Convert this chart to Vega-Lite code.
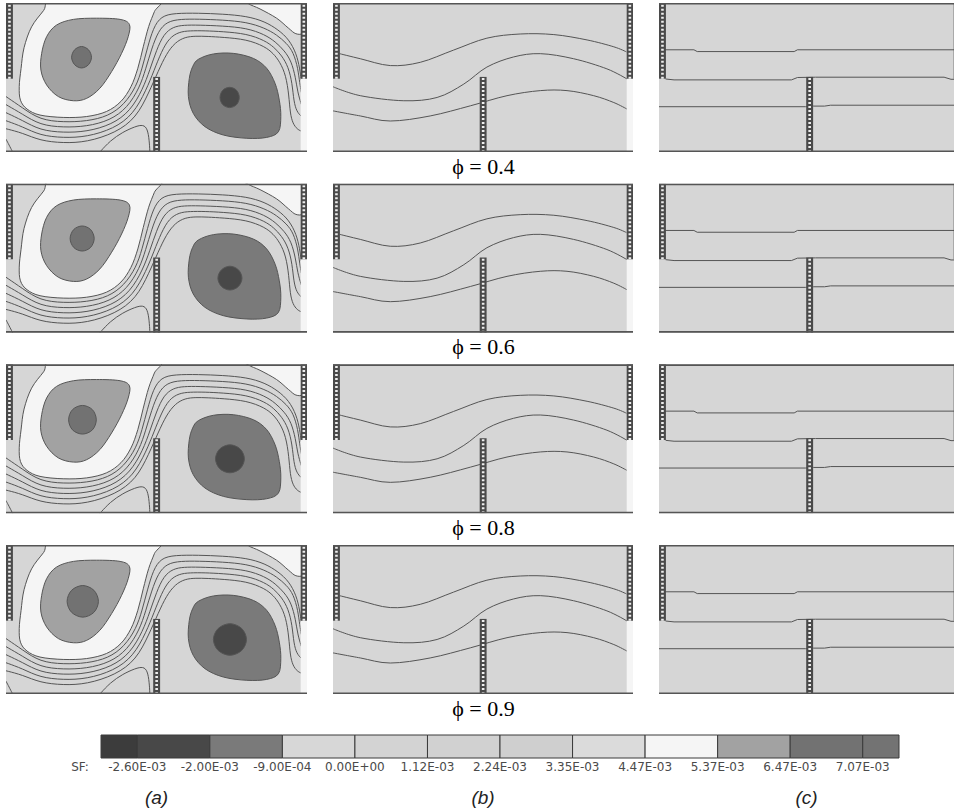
{
"$schema": "https://vega.github.io/schema/vega-lite/v6.json",
"padding": {"left": 6, "top": 3, "right": 0, "bottom": 0},
"background": "white",
"config": {"view": {"stroke": null}},
"datasets": {
"a_regions": [
{"id":"w","band":9,"z":1,"i":1,"x":15.5,"y":51.5},{"id":"w","band":9,"z":1,"i":2,"x":12.5,"y":47.5},{"id":"w","band":9,"z":1,"i":3,"x":8.5,"y":42},{"id":"w","band":9,"z":1,"i":4,"x":6.0,"y":35},{"id":"w","band":9,"z":1,"i":5,"x":5.0,"y":28},{"id":"w","band":9,"z":1,"i":6,"x":4.4,"y":22},{"id":"w","band":9,"z":1,"i":7,"x":4.8,"y":17.4},{"id":"w","band":9,"z":1,"i":8,"x":7.0,"y":14.4},{"id":"w","band":9,"z":1,"i":9,"x":11.3,"y":12.4},{"id":"w","band":9,"z":1,"i":10,"x":19.0,"y":11.6},{"id":"w","band":9,"z":1,"i":11,"x":26.8,"y":11.9},{"id":"w","band":9,"z":1,"i":12,"x":33.4,"y":13.6},{"id":"w","band":9,"z":1,"i":13,"x":38.2,"y":17.0},{"id":"w","band":9,"z":1,"i":14,"x":41.5,"y":21.9},{"id":"w","band":9,"z":1,"i":15,"x":43.8,"y":28.1},{"id":"w","band":9,"z":1,"i":16,"x":45.6,"y":35.3},{"id":"w","band":9,"z":1,"i":17,"x":47.4,"y":42.1},{"id":"w","band":9,"z":1,"i":18,"x":49.3,"y":47.1},{"id":"w","band":9,"z":1,"i":19,"x":51.0,"y":51.5},{"id":"w","band":9,"z":1,"i":20,"x":33.0,"y":52.5},
{"id":"t","band":9,"z":1,"i":1,"x":78.5,"y":52},{"id":"t","band":9,"z":1,"i":2,"x":80.5,"y":49.8},{"id":"t","band":9,"z":1,"i":3,"x":84.4,"y":48.0},{"id":"t","band":9,"z":1,"i":4,"x":89.9,"y":44.9},{"id":"t","band":9,"z":1,"i":5,"x":93.8,"y":41.6},{"id":"t","band":9,"z":1,"i":6,"x":96.3,"y":39.7},{"id":"t","band":9,"z":1,"i":7,"x":98.8,"y":40.0},{"id":"t","band":9,"z":1,"i":8,"x":100.5,"y":44},{"id":"t","band":9,"z":1,"i":9,"x":100.5,"y":52},
{"id":"v1","band":10,"z":2,"i":1,"x":11.85,"y":33.1},{"id":"v1","band":10,"z":2,"i":2,"x":13.5,"y":38.7},{"id":"v1","band":10,"z":2,"i":3,"x":16.8,"y":42.6},{"id":"v1","band":10,"z":2,"i":4,"x":22.4,"y":44.5},{"id":"v1","band":10,"z":2,"i":5,"x":30.1,"y":44.9},{"id":"v1","band":10,"z":2,"i":6,"x":37.9,"y":44.5},{"id":"v1","band":10,"z":2,"i":7,"x":41.0,"y":42.8},{"id":"v1","band":10,"z":2,"i":8,"x":40.6,"y":38.7},{"id":"v1","band":10,"z":2,"i":9,"x":38.4,"y":33.1},{"id":"v1","band":10,"z":2,"i":10,"x":35.1,"y":27.0},{"id":"v1","band":10,"z":2,"i":11,"x":31.2,"y":21.4},{"id":"v1","band":10,"z":2,"i":12,"x":26.8,"y":18.0},{"id":"v1","band":10,"z":2,"i":13,"x":22.4,"y":17.2},{"id":"v1","band":10,"z":2,"i":14,"x":17.4,"y":18.6},{"id":"v1","band":10,"z":2,"i":15,"x":13.5,"y":22.5},{"id":"v1","band":10,"z":2,"i":16,"x":11.6,"y":27.5},
{"id":"v2","band":3,"z":2,"i":1,"x":63.9,"y":31.1},{"id":"v2","band":3,"z":2,"i":2,"x":68.9,"y":32.9},{"id":"v2","band":3,"z":2,"i":3,"x":75.5,"y":33.1},{"id":"v2","band":3,"z":2,"i":4,"x":82.2,"y":31.4},{"id":"v2","band":3,"z":2,"i":5,"x":86.6,"y":28.1},{"id":"v2","band":3,"z":2,"i":6,"x":89.4,"y":23.0},{"id":"v2","band":3,"z":2,"i":7,"x":90.8,"y":17.4},{"id":"v2","band":3,"z":2,"i":8,"x":91.3,"y":11.9},{"id":"v2","band":3,"z":2,"i":9,"x":90.5,"y":6.8},{"id":"v2","band":3,"z":2,"i":10,"x":86.6,"y":4.9},{"id":"v2","band":3,"z":2,"i":11,"x":80.0,"y":4.6},{"id":"v2","band":3,"z":2,"i":12,"x":72.2,"y":5.7},{"id":"v2","band":3,"z":2,"i":13,"x":66.1,"y":8.5},{"id":"v2","band":3,"z":2,"i":14,"x":62.2,"y":13.0},{"id":"v2","band":3,"z":2,"i":15,"x":60.6,"y":18.6},{"id":"v2","band":3,"z":2,"i":16,"x":60.9,"y":24.7},{"id":"v2","band":3,"z":2,"i":17,"x":62.0,"y":28.6}
],
"a_cores": [
{"phi":0.4,"id":"c1","band":11,"i":1,"x":28.4,"y":31.8},{"phi":0.4,"id":"c1","band":11,"i":2,"x":27.4,"y":34.3},{"phi":0.4,"id":"c1","band":11,"i":3,"x":25.1,"y":35.4},{"phi":0.4,"id":"c1","band":11,"i":4,"x":22.8,"y":34.3},{"phi":0.4,"id":"c1","band":11,"i":5,"x":21.8,"y":31.8},{"phi":0.4,"id":"c1","band":11,"i":6,"x":22.8,"y":29.3},{"phi":0.4,"id":"c1","band":11,"i":7,"x":25.1,"y":28.2},{"phi":0.4,"id":"c1","band":11,"i":8,"x":27.4,"y":29.3},
{"phi":0.4,"id":"c2","band":2,"i":1,"x":77.5,"y":18.3},{"phi":0.4,"id":"c2","band":2,"i":2,"x":76.6,"y":20.7},{"phi":0.4,"id":"c2","band":2,"i":3,"x":74.3,"y":21.7},{"phi":0.4,"id":"c2","band":2,"i":4,"x":72.0,"y":20.7},{"phi":0.4,"id":"c2","band":2,"i":5,"x":71.1,"y":18.3},{"phi":0.4,"id":"c2","band":2,"i":6,"x":72.0,"y":15.9},{"phi":0.4,"id":"c2","band":2,"i":7,"x":74.3,"y":14.9},{"phi":0.4,"id":"c2","band":2,"i":8,"x":76.6,"y":15.9},
{"phi":0.6,"id":"c1","band":11,"i":1,"x":29.3,"y":31.6},{"phi":0.6,"id":"c1","band":11,"i":2,"x":28.1,"y":34.6},{"phi":0.6,"id":"c1","band":11,"i":3,"x":25.3,"y":35.8},{"phi":0.6,"id":"c1","band":11,"i":4,"x":22.5,"y":34.6},{"phi":0.6,"id":"c1","band":11,"i":5,"x":21.3,"y":31.6},{"phi":0.6,"id":"c1","band":11,"i":6,"x":22.5,"y":28.6},{"phi":0.6,"id":"c1","band":11,"i":7,"x":25.3,"y":27.4},{"phi":0.6,"id":"c1","band":11,"i":8,"x":28.1,"y":28.6},
{"phi":0.6,"id":"c2","band":2,"i":1,"x":78.4,"y":18.3},{"phi":0.6,"id":"c2","band":2,"i":2,"x":77.2,"y":21.1},{"phi":0.6,"id":"c2","band":2,"i":3,"x":74.4,"y":22.3},{"phi":0.6,"id":"c2","band":2,"i":4,"x":71.6,"y":21.1},{"phi":0.6,"id":"c2","band":2,"i":5,"x":70.4,"y":18.3},{"phi":0.6,"id":"c2","band":2,"i":6,"x":71.6,"y":15.5},{"phi":0.6,"id":"c2","band":2,"i":7,"x":74.4,"y":14.3},{"phi":0.6,"id":"c2","band":2,"i":8,"x":77.2,"y":15.5},
{"phi":0.8,"id":"c1","band":11,"i":1,"x":30.0,"y":31.4},{"phi":0.8,"id":"c1","band":11,"i":2,"x":28.7,"y":34.8},{"phi":0.8,"id":"c1","band":11,"i":3,"x":25.4,"y":36.2},{"phi":0.8,"id":"c1","band":11,"i":4,"x":22.1,"y":34.8},{"phi":0.8,"id":"c1","band":11,"i":5,"x":20.8,"y":31.4},{"phi":0.8,"id":"c1","band":11,"i":6,"x":22.1,"y":28.0},{"phi":0.8,"id":"c1","band":11,"i":7,"x":25.4,"y":26.6},{"phi":0.8,"id":"c1","band":11,"i":8,"x":28.7,"y":28.0},
{"phi":0.8,"id":"c2","band":2,"i":1,"x":79.2,"y":18.3},{"phi":0.8,"id":"c2","band":2,"i":2,"x":77.8,"y":21.6},{"phi":0.8,"id":"c2","band":2,"i":3,"x":74.4,"y":23.0},{"phi":0.8,"id":"c2","band":2,"i":4,"x":71.0,"y":21.6},{"phi":0.8,"id":"c2","band":2,"i":5,"x":69.6,"y":18.3},{"phi":0.8,"id":"c2","band":2,"i":6,"x":71.0,"y":15.0},{"phi":0.8,"id":"c2","band":2,"i":7,"x":74.4,"y":13.6},{"phi":0.8,"id":"c2","band":2,"i":8,"x":77.8,"y":15.0},
{"phi":0.9,"id":"c1","band":11,"i":1,"x":30.7,"y":31.1},{"phi":0.9,"id":"c1","band":11,"i":2,"x":29.2,"y":34.8},{"phi":0.9,"id":"c1","band":11,"i":3,"x":25.5,"y":36.4},{"phi":0.9,"id":"c1","band":11,"i":4,"x":21.8,"y":34.8},{"phi":0.9,"id":"c1","band":11,"i":5,"x":20.3,"y":31.1},{"phi":0.9,"id":"c1","band":11,"i":6,"x":21.8,"y":27.4},{"phi":0.9,"id":"c1","band":11,"i":7,"x":25.5,"y":25.8},{"phi":0.9,"id":"c1","band":11,"i":8,"x":29.2,"y":27.4},
{"phi":0.9,"id":"c2","band":2,"i":1,"x":79.9,"y":18.3},{"phi":0.9,"id":"c2","band":2,"i":2,"x":78.3,"y":22.0},{"phi":0.9,"id":"c2","band":2,"i":3,"x":74.4,"y":23.6},{"phi":0.9,"id":"c2","band":2,"i":4,"x":70.5,"y":22.0},{"phi":0.9,"id":"c2","band":2,"i":5,"x":68.9,"y":18.3},{"phi":0.9,"id":"c2","band":2,"i":6,"x":70.5,"y":14.6},{"phi":0.9,"id":"c2","band":2,"i":7,"x":74.4,"y":13.0},{"phi":0.9,"id":"c2","band":2,"i":8,"x":78.3,"y":14.6}
],
"a_lines": [
{"id":"k0","i":1,"x":0,"y":18.6},{"id":"k0","i":2,"x":5.5,"y":14.8},{"id":"k0","i":3,"x":11.3,"y":10.8},{"id":"k0","i":4,"x":19,"y":10.0},{"id":"k0","i":5,"x":26.8,"y":10.3},{"id":"k0","i":6,"x":34.0,"y":12.0},{"id":"k0","i":7,"x":39.3,"y":15.9},{"id":"k0","i":8,"x":43.3,"y":22.0},{"id":"k0","i":9,"x":45.2,"y":28.0},{"id":"k0","i":10,"x":47.0,"y":35.0},{"id":"k0","i":11,"x":48.9,"y":41.6},{"id":"k0","i":12,"x":51.5,"y":45.6},{"id":"k0","i":13,"x":56,"y":46.6},{"id":"k0","i":14,"x":64,"y":46.6},{"id":"k0","i":15,"x":72,"y":46.3},{"id":"k0","i":16,"x":80,"y":45.6},{"id":"k0","i":17,"x":86,"y":43.8},{"id":"k0","i":18,"x":90.5,"y":41.0},{"id":"k0","i":19,"x":94,"y":37.8},{"id":"k0","i":20,"x":96.5,"y":33},{"id":"k0","i":21,"x":97.6,"y":28},{"id":"k0","i":22,"x":98.1,"y":24},
{"id":"k1","i":1,"x":0,"y":15.9},{"id":"k1","i":2,"x":5.5,"y":12.7},{"id":"k1","i":3,"x":11.3,"y":9.05},{"id":"k1","i":4,"x":19,"y":8.25},{"id":"k1","i":5,"x":26.8,"y":8.55},{"id":"k1","i":6,"x":34.6,"y":10.6},{"id":"k1","i":7,"x":40.3,"y":14.8},{"id":"k1","i":8,"x":44.4,"y":21.6},{"id":"k1","i":9,"x":46.4,"y":27.8},{"id":"k1","i":10,"x":48.4,"y":34.7},{"id":"k1","i":11,"x":50.6,"y":40.6},{"id":"k1","i":12,"x":53.5,"y":43.8},{"id":"k1","i":13,"x":58,"y":44.6},{"id":"k1","i":14,"x":64,"y":44.6},{"id":"k1","i":15,"x":72,"y":44.3},{"id":"k1","i":16,"x":80,"y":43.6},{"id":"k1","i":17,"x":86,"y":41.6},{"id":"k1","i":18,"x":90,"y":39.3},{"id":"k1","i":19,"x":93.2,"y":36.5},{"id":"k1","i":20,"x":95.5,"y":33.5},{"id":"k1","i":21,"x":97,"y":28},{"id":"k1","i":22,"x":97.6,"y":23},{"id":"k1","i":23,"x":98.1,"y":20},
{"id":"k2","i":1,"x":0,"y":13.2},{"id":"k2","i":2,"x":5.5,"y":10.6},{"id":"k2","i":3,"x":11.3,"y":7.3},{"id":"k2","i":4,"x":19,"y":6.5},{"id":"k2","i":5,"x":26.8,"y":6.8},{"id":"k2","i":6,"x":35.2,"y":9.2},{"id":"k2","i":7,"x":41.3,"y":13.7},{"id":"k2","i":8,"x":45.5,"y":21.2},{"id":"k2","i":9,"x":47.8,"y":27.6},{"id":"k2","i":10,"x":50.0,"y":34.2},{"id":"k2","i":11,"x":52.4,"y":39.6},{"id":"k2","i":12,"x":55.5,"y":42.0},{"id":"k2","i":13,"x":59,"y":42.6},{"id":"k2","i":14,"x":64,"y":42.6},{"id":"k2","i":15,"x":72,"y":42.3},{"id":"k2","i":16,"x":80,"y":41.6},{"id":"k2","i":17,"x":86,"y":39.4},{"id":"k2","i":18,"x":89.5,"y":37.0},{"id":"k2","i":19,"x":92.5,"y":34},{"id":"k2","i":20,"x":94.8,"y":30.5},{"id":"k2","i":21,"x":96.2,"y":25},{"id":"k2","i":22,"x":96.9,"y":20},{"id":"k2","i":23,"x":98.1,"y":16},
{"id":"k3","i":1,"x":0,"y":10.5},{"id":"k3","i":2,"x":5.5,"y":8.5},{"id":"k3","i":3,"x":11.3,"y":5.55},{"id":"k3","i":4,"x":19,"y":4.75},{"id":"k3","i":5,"x":26.8,"y":5.05},{"id":"k3","i":6,"x":35.8,"y":7.8},{"id":"k3","i":7,"x":42.3,"y":12.6},{"id":"k3","i":8,"x":46.6,"y":20.8},{"id":"k3","i":9,"x":49.2,"y":27.4},{"id":"k3","i":10,"x":51.6,"y":33.6},{"id":"k3","i":11,"x":54.2,"y":38.3},{"id":"k3","i":12,"x":57.5,"y":40.3},{"id":"k3","i":13,"x":61,"y":40.7},{"id":"k3","i":14,"x":66,"y":40.7},{"id":"k3","i":15,"x":72,"y":40.4},{"id":"k3","i":16,"x":80,"y":39.7},{"id":"k3","i":17,"x":86,"y":37.4},{"id":"k3","i":18,"x":89,"y":35.2},{"id":"k3","i":19,"x":91.6,"y":32.4},{"id":"k3","i":20,"x":93.8,"y":28.6},{"id":"k3","i":21,"x":95.1,"y":23},{"id":"k3","i":22,"x":95.6,"y":17},{"id":"k3","i":23,"x":96.6,"y":13.5},{"id":"k3","i":24,"x":98.1,"y":12},
{"id":"k4","i":1,"x":0,"y":7.8},{"id":"k4","i":2,"x":5.5,"y":6.4},{"id":"k4","i":3,"x":11.3,"y":3.8},{"id":"k4","i":4,"x":19,"y":3.0},{"id":"k4","i":5,"x":26.8,"y":3.3},{"id":"k4","i":6,"x":36.4,"y":6.4},{"id":"k4","i":7,"x":43.3,"y":11.5},{"id":"k4","i":8,"x":47.5,"y":20.0},{"id":"k4","i":9,"x":50.6,"y":27.2},{"id":"k4","i":10,"x":53.3,"y":33.0},{"id":"k4","i":11,"x":56.2,"y":36.8},{"id":"k4","i":12,"x":59.5,"y":38.6},{"id":"k4","i":13,"x":63,"y":38.9},{"id":"k4","i":14,"x":67,"y":38.8},{"id":"k4","i":15,"x":72,"y":38.5},{"id":"k4","i":16,"x":80,"y":37.8},{"id":"k4","i":17,"x":86,"y":35.4},{"id":"k4","i":18,"x":88.8,"y":33.1},{"id":"k4","i":19,"x":91,"y":30.2},{"id":"k4","i":20,"x":93,"y":25.8},{"id":"k4","i":21,"x":94,"y":19},{"id":"k4","i":22,"x":94.4,"y":13},{"id":"k4","i":23,"x":95.3,"y":9.5},{"id":"k4","i":24,"x":96.8,"y":7.6},{"id":"k4","i":25,"x":98.1,"y":7},
{"id":"bump","i":1,"x":31.2,"y":0},{"id":"bump","i":2,"x":34.6,"y":3.8},{"id":"bump","i":3,"x":38.8,"y":6.7},{"id":"bump","i":4,"x":43,"y":8.6},{"id":"bump","i":5,"x":45.6,"y":9.2},{"id":"bump","i":6,"x":47.0,"y":7.8},{"id":"bump","i":7,"x":47.6,"y":4},{"id":"bump","i":8,"x":47.8,"y":0},
{"id":"corner","i":1,"x":0,"y":4.3},{"id":"corner","i":2,"x":1.0,"y":2.4},{"id":"corner","i":3,"x":2.2,"y":0}
],
"b_lines": [
{"id":"b1","i":1,"x":2.2,"y":33.0},{"id":"b1","i":2,"x":9.1,"y":31.3},{"id":"b1","i":3,"x":19.1,"y":29.0},{"id":"b1","i":4,"x":29.1,"y":30.1},{"id":"b1","i":5,"x":40.2,"y":34.2},{"id":"b1","i":6,"x":51.3,"y":38.2},{"id":"b1","i":7,"x":62.4,"y":39.6},{"id":"b1","i":8,"x":73.6,"y":39.4},{"id":"b1","i":9,"x":84.7,"y":37.6},{"id":"b1","i":10,"x":93.6,"y":35.3},{"id":"b1","i":11,"x":97.8,"y":33.6},
{"id":"b2","i":1,"x":0,"y":21.9},{"id":"b2","i":2,"x":9.1,"y":18.9},{"id":"b2","i":3,"x":23.6,"y":17.2},{"id":"b2","i":4,"x":34.7,"y":18.3},{"id":"b2","i":5,"x":43.6,"y":22.8},{"id":"b2","i":6,"x":51.3,"y":28.5},{"id":"b2","i":7,"x":60.2,"y":31.9},{"id":"b2","i":8,"x":69.1,"y":33.0},{"id":"b2","i":9,"x":80.2,"y":31.3},{"id":"b2","i":10,"x":91.3,"y":27.9},{"id":"b2","i":11,"x":98,"y":24.5},
{"id":"b3","i":1,"x":0,"y":13.8},{"id":"b3","i":2,"x":9.1,"y":12.1},{"id":"b3","i":3,"x":19.1,"y":10.4},{"id":"b3","i":4,"x":32.4,"y":12.1},{"id":"b3","i":5,"x":45.8,"y":15.5},{"id":"b3","i":6,"x":58.0,"y":18.9},{"id":"b3","i":7,"x":69.1,"y":20.6},{"id":"b3","i":8,"x":78,"y":20.6},{"id":"b3","i":9,"x":86.9,"y":18.9},{"id":"b3","i":10,"x":93.6,"y":16.6},{"id":"b3","i":11,"x":98,"y":14.4}
],
"c_lines": [
{"id":"c1","i":1,"x":0,"y":34.3},{"id":"c1","i":2,"x":11.6,"y":34.3},{"id":"c1","i":3,"x":12.7,"y":33.7},{"id":"c1","i":4,"x":44.9,"y":33.7},{"id":"c1","i":5,"x":46.0,"y":34.3},{"id":"c1","i":6,"x":100,"y":34.3},
{"id":"c2","i":1,"x":2.2,"y":24.5},{"id":"c2","i":2,"x":5,"y":24.2},{"id":"c2","i":3,"x":44,"y":24.2},{"id":"c2","i":4,"x":46,"y":25.0},{"id":"c2","i":5,"x":52,"y":25.1},{"id":"c2","i":6,"x":94.7,"y":25.1},{"id":"c2","i":7,"x":97,"y":24.4},{"id":"c2","i":8,"x":100,"y":24.4},
{"id":"c3","i":1,"x":0,"y":15.2},{"id":"c3","i":2,"x":48.7,"y":15.2},{"id":"c3","i":3,"x":51.3,"y":15.4},{"id":"c3","i":4,"x":55,"y":15.4},{"id":"c3","i":5,"x":57,"y":15.7},{"id":"c3","i":6,"x":100,"y":15.7}
],
"baffles": [{"x":0,"x2":2.3,"y":24.6,"y2":50},{"x":97.9,"x2":100,"y":24.6,"y2":50},{"x":48.9,"x2":51.2,"y":0,"y2":25.2}],
"bafflecores": [{"x":1.15,"y":24.6,"y2":50},{"x":98.95,"y":24.6,"y2":50},{"x":50.05,"y":0,"y2":25.2}],
"walls": [{"x":0,"x2":100,"y":0},{"x":0,"x2":100,"y":50}],
"strip": [{"x":97.9,"x2":100,"y":0,"y2":24.6,"band":9}],
"bar": [{"lo":0,"hi":0.5,"band":1},{"lo":0.5,"hi":1.5,"band":2},{"lo":1.5,"hi":2.5,"band":3},{"lo":2.5,"hi":3.5,"band":4},{"lo":3.5,"hi":4.5,"band":5},{"lo":4.5,"hi":5.5,"band":6},{"lo":5.5,"hi":6.5,"band":7},{"lo":6.5,"hi":7.5,"band":8},{"lo":7.5,"hi":8.5,"band":9},{"lo":8.5,"hi":9.5,"band":10},{"lo":9.5,"hi":10.5,"band":11},{"lo":10.5,"hi":11,"band":12}],
"barlabels": [{"pos":-0.29,"label":"SF:"},{"pos":0.5,"label":"-2.60E-03"},{"pos":1.5,"label":"-2.00E-03"},{"pos":2.5,"label":"-9.00E-04"},{"pos":3.5,"label":"0.00E+00"},{"pos":4.5,"label":"1.12E-03"},{"pos":5.5,"label":"2.24E-03"},{"pos":6.5,"label":"3.35E-03"},{"pos":7.5,"label":"4.47E-03"},{"pos":8.5,"label":"5.37E-03"},{"pos":9.5,"label":"6.47E-03"},{"pos":10.5,"label":"7.07E-03"}]
},
"spacing": 14,
"bounds": "full",
"vconcat": [
{"columns": 3, "spacing": {"row": 31.67, "column": 26}, "bounds": "flush", "align": "each",
"concat": [
{"width":301,"height":149,"view":{"fill":"#d6d6d6"},
 "encoding":{"x":{"field":"x","type":"quantitative","scale":{"domain":[0,100],"nice":false,"zero":false},"axis":null},"y":{"field":"y","type":"quantitative","scale":{"domain":[0,50],"nice":false,"zero":false},"axis":null}},
 "layer":[
  {"data":{"name":"a_regions"},"transform":[{"filter":"datum.z == 1"}],"mark":{"type":"line","interpolate":"cardinal-closed","stroke":"#555555","strokeWidth":1,"clip":true},"encoding":{"detail":{"field":"id","type":"nominal"},"order":{"field":"i","type":"quantitative"},"fill":{"field":"band","type":"ordinal","scale":{"domain":[1,2,3,4,5,6,7,8,9,10,11,12],"range":["#3c3c3c","#484848","#7a7a7a","#d7d7d7","#d3d3d3","#d1d1d1","#cfcfcf","#dbdbdb","#f5f5f5","#a2a2a2","#727272","#737373"]},"legend":null}}},
  {"data":{"name":"a_regions"},"transform":[{"filter":"datum.z == 2"}],"mark":{"type":"line","interpolate":"cardinal-closed","stroke":"#555555","strokeWidth":1,"clip":true},"encoding":{"detail":{"field":"id","type":"nominal"},"order":{"field":"i","type":"quantitative"},"fill":{"field":"band","type":"ordinal","scale":{"domain":[1,2,3,4,5,6,7,8,9,10,11,12],"range":["#3c3c3c","#484848","#7a7a7a","#d7d7d7","#d3d3d3","#d1d1d1","#cfcfcf","#dbdbdb","#f5f5f5","#a2a2a2","#727272","#737373"]},"legend":null}}},
  {"data":{"name":"a_cores"},"transform":[{"filter":"datum.phi == 0.4"}],"mark":{"type":"line","interpolate":"cardinal-closed","stroke":"#555555","strokeWidth":1,"clip":true},"encoding":{"detail":{"field":"id","type":"nominal"},"order":{"field":"i","type":"quantitative"},"fill":{"field":"band","type":"ordinal","scale":{"domain":[1,2,3,4,5,6,7,8,9,10,11,12],"range":["#3c3c3c","#484848","#7a7a7a","#d7d7d7","#d3d3d3","#d1d1d1","#cfcfcf","#dbdbdb","#f5f5f5","#a2a2a2","#727272","#737373"]},"legend":null}}},
  {"data":{"name":"a_lines"},"mark":{"type":"line","interpolate":"basis","stroke":"#555555","strokeWidth":1,"clip":true},"encoding":{"detail":{"field":"id","type":"nominal"},"order":{"field":"i","type":"quantitative"}}},
  {"data":{"name":"strip"},"mark":{"type":"rect","clip":true},"encoding":{"x2":{"field":"x2"},"y2":{"field":"y2"},"fill":{"field":"band","type":"ordinal","scale":{"domain":[1,2,3,4,5,6,7,8,9,10,11,12],"range":["#3c3c3c","#484848","#7a7a7a","#d7d7d7","#d3d3d3","#d1d1d1","#cfcfcf","#dbdbdb","#f5f5f5","#a2a2a2","#727272","#737373"]},"legend":null}}},
  {"data":{"name":"baffles"},"mark":{"type":"rect","fill":"#4a4a4a","clip":true},"encoding":{"x2":{"field":"x2"},"y2":{"field":"y2"}}},
  {"data":{"name":"bafflecores"},"mark":{"type":"rule","stroke":"#eeeeee","strokeWidth":2.6,"strokeDash":[2,2],"clip":true},"encoding":{"y2":{"field":"y2"}}},
  {"data":{"name":"walls"},"mark":{"type":"rule","stroke":"#555555","strokeWidth":3.2,"clip":true},"encoding":{"x2":{"field":"x2"}}}
 ]},
{"width":300,"height":149,"view":{"fill":"#d6d6d6"},
 "encoding":{"x":{"field":"x","type":"quantitative","scale":{"domain":[0,100],"nice":false,"zero":false},"axis":{"title":"ϕ = 0.4","domain":false,"ticks":false,"labels":false,"grid":false,"titlePadding":4,"titleFont":"Liberation Serif","titleFontSize":22,"titleFontWeight":"normal","titleColor":"#000000"}},"y":{"field":"y","type":"quantitative","scale":{"domain":[0,50],"nice":false,"zero":false},"axis":null}},
 "layer":[
  {"data":{"name":"b_lines"},"mark":{"type":"line","interpolate":"cardinal","stroke":"#555555","strokeWidth":1,"clip":true},"encoding":{"detail":{"field":"id","type":"nominal"},"order":{"field":"i","type":"quantitative"}}},
  {"data":{"name":"strip"},"mark":{"type":"rect","clip":true},"encoding":{"x2":{"field":"x2"},"y2":{"field":"y2"},"fill":{"field":"band","type":"ordinal","scale":{"domain":[1,2,3,4,5,6,7,8,9,10,11,12],"range":["#3c3c3c","#484848","#7a7a7a","#d7d7d7","#d3d3d3","#d1d1d1","#cfcfcf","#dbdbdb","#f5f5f5","#a2a2a2","#727272","#737373"]},"legend":null}}},
  {"data":{"name":"baffles"},"mark":{"type":"rect","fill":"#4a4a4a","clip":true},"encoding":{"x2":{"field":"x2"},"y2":{"field":"y2"}}},
  {"data":{"name":"bafflecores"},"mark":{"type":"rule","stroke":"#eeeeee","strokeWidth":2.6,"strokeDash":[2,2],"clip":true},"encoding":{"y2":{"field":"y2"}}},
  {"data":{"name":"walls"},"mark":{"type":"rule","stroke":"#555555","strokeWidth":3.2,"clip":true},"encoding":{"x2":{"field":"x2"}}}
 ]},
{"width":295,"height":149,"view":{"fill":"#d6d6d6"},
 "encoding":{"x":{"field":"x","type":"quantitative","scale":{"domain":[0,98],"nice":false,"zero":false},"axis":null},"y":{"field":"y","type":"quantitative","scale":{"domain":[0,50],"nice":false,"zero":false},"axis":null}},
 "layer":[
  {"data":{"name":"c_lines"},"mark":{"type":"line","interpolate":"linear","stroke":"#555555","strokeWidth":1,"clip":true},"encoding":{"detail":{"field":"id","type":"nominal"},"order":{"field":"i","type":"quantitative"}}},
  {"data":{"name":"baffles"},"mark":{"type":"rect","fill":"#4a4a4a","clip":true},"encoding":{"x2":{"field":"x2"},"y2":{"field":"y2"}}},
  {"data":{"name":"bafflecores"},"mark":{"type":"rule","stroke":"#eeeeee","strokeWidth":2.6,"strokeDash":[2,2],"clip":true},"encoding":{"y2":{"field":"y2"}}},
  {"data":{"name":"walls"},"mark":{"type":"rule","stroke":"#555555","strokeWidth":3.2,"clip":true},"encoding":{"x2":{"field":"x2"}}}
 ]},
{"width":301,"height":149,"view":{"fill":"#d6d6d6"},
 "encoding":{"x":{"field":"x","type":"quantitative","scale":{"domain":[0,100],"nice":false,"zero":false},"axis":null},"y":{"field":"y","type":"quantitative","scale":{"domain":[0,50],"nice":false,"zero":false},"axis":null}},
 "layer":[
  {"data":{"name":"a_regions"},"transform":[{"filter":"datum.z == 1"}],"mark":{"type":"line","interpolate":"cardinal-closed","stroke":"#555555","strokeWidth":1,"clip":true},"encoding":{"detail":{"field":"id","type":"nominal"},"order":{"field":"i","type":"quantitative"},"fill":{"field":"band","type":"ordinal","scale":{"domain":[1,2,3,4,5,6,7,8,9,10,11,12],"range":["#3c3c3c","#484848","#7a7a7a","#d7d7d7","#d3d3d3","#d1d1d1","#cfcfcf","#dbdbdb","#f5f5f5","#a2a2a2","#727272","#737373"]},"legend":null}}},
  {"data":{"name":"a_regions"},"transform":[{"filter":"datum.z == 2"}],"mark":{"type":"line","interpolate":"cardinal-closed","stroke":"#555555","strokeWidth":1,"clip":true},"encoding":{"detail":{"field":"id","type":"nominal"},"order":{"field":"i","type":"quantitative"},"fill":{"field":"band","type":"ordinal","scale":{"domain":[1,2,3,4,5,6,7,8,9,10,11,12],"range":["#3c3c3c","#484848","#7a7a7a","#d7d7d7","#d3d3d3","#d1d1d1","#cfcfcf","#dbdbdb","#f5f5f5","#a2a2a2","#727272","#737373"]},"legend":null}}},
  {"data":{"name":"a_cores"},"transform":[{"filter":"datum.phi == 0.6"}],"mark":{"type":"line","interpolate":"cardinal-closed","stroke":"#555555","strokeWidth":1,"clip":true},"encoding":{"detail":{"field":"id","type":"nominal"},"order":{"field":"i","type":"quantitative"},"fill":{"field":"band","type":"ordinal","scale":{"domain":[1,2,3,4,5,6,7,8,9,10,11,12],"range":["#3c3c3c","#484848","#7a7a7a","#d7d7d7","#d3d3d3","#d1d1d1","#cfcfcf","#dbdbdb","#f5f5f5","#a2a2a2","#727272","#737373"]},"legend":null}}},
  {"data":{"name":"a_lines"},"mark":{"type":"line","interpolate":"basis","stroke":"#555555","strokeWidth":1,"clip":true},"encoding":{"detail":{"field":"id","type":"nominal"},"order":{"field":"i","type":"quantitative"}}},
  {"data":{"name":"strip"},"mark":{"type":"rect","clip":true},"encoding":{"x2":{"field":"x2"},"y2":{"field":"y2"},"fill":{"field":"band","type":"ordinal","scale":{"domain":[1,2,3,4,5,6,7,8,9,10,11,12],"range":["#3c3c3c","#484848","#7a7a7a","#d7d7d7","#d3d3d3","#d1d1d1","#cfcfcf","#dbdbdb","#f5f5f5","#a2a2a2","#727272","#737373"]},"legend":null}}},
  {"data":{"name":"baffles"},"mark":{"type":"rect","fill":"#4a4a4a","clip":true},"encoding":{"x2":{"field":"x2"},"y2":{"field":"y2"}}},
  {"data":{"name":"bafflecores"},"mark":{"type":"rule","stroke":"#eeeeee","strokeWidth":2.6,"strokeDash":[2,2],"clip":true},"encoding":{"y2":{"field":"y2"}}},
  {"data":{"name":"walls"},"mark":{"type":"rule","stroke":"#555555","strokeWidth":3.2,"clip":true},"encoding":{"x2":{"field":"x2"}}}
 ]},
{"width":300,"height":149,"view":{"fill":"#d6d6d6"},
 "encoding":{"x":{"field":"x","type":"quantitative","scale":{"domain":[0,100],"nice":false,"zero":false},"axis":{"title":"ϕ = 0.6","domain":false,"ticks":false,"labels":false,"grid":false,"titlePadding":4,"titleFont":"Liberation Serif","titleFontSize":22,"titleFontWeight":"normal","titleColor":"#000000"}},"y":{"field":"y","type":"quantitative","scale":{"domain":[0,50],"nice":false,"zero":false},"axis":null}},
 "layer":[
  {"data":{"name":"b_lines"},"mark":{"type":"line","interpolate":"cardinal","stroke":"#555555","strokeWidth":1,"clip":true},"encoding":{"detail":{"field":"id","type":"nominal"},"order":{"field":"i","type":"quantitative"}}},
  {"data":{"name":"strip"},"mark":{"type":"rect","clip":true},"encoding":{"x2":{"field":"x2"},"y2":{"field":"y2"},"fill":{"field":"band","type":"ordinal","scale":{"domain":[1,2,3,4,5,6,7,8,9,10,11,12],"range":["#3c3c3c","#484848","#7a7a7a","#d7d7d7","#d3d3d3","#d1d1d1","#cfcfcf","#dbdbdb","#f5f5f5","#a2a2a2","#727272","#737373"]},"legend":null}}},
  {"data":{"name":"baffles"},"mark":{"type":"rect","fill":"#4a4a4a","clip":true},"encoding":{"x2":{"field":"x2"},"y2":{"field":"y2"}}},
  {"data":{"name":"bafflecores"},"mark":{"type":"rule","stroke":"#eeeeee","strokeWidth":2.6,"strokeDash":[2,2],"clip":true},"encoding":{"y2":{"field":"y2"}}},
  {"data":{"name":"walls"},"mark":{"type":"rule","stroke":"#555555","strokeWidth":3.2,"clip":true},"encoding":{"x2":{"field":"x2"}}}
 ]},
{"width":295,"height":149,"view":{"fill":"#d6d6d6"},
 "encoding":{"x":{"field":"x","type":"quantitative","scale":{"domain":[0,98],"nice":false,"zero":false},"axis":null},"y":{"field":"y","type":"quantitative","scale":{"domain":[0,50],"nice":false,"zero":false},"axis":null}},
 "layer":[
  {"data":{"name":"c_lines"},"mark":{"type":"line","interpolate":"linear","stroke":"#555555","strokeWidth":1,"clip":true},"encoding":{"detail":{"field":"id","type":"nominal"},"order":{"field":"i","type":"quantitative"}}},
  {"data":{"name":"baffles"},"mark":{"type":"rect","fill":"#4a4a4a","clip":true},"encoding":{"x2":{"field":"x2"},"y2":{"field":"y2"}}},
  {"data":{"name":"bafflecores"},"mark":{"type":"rule","stroke":"#eeeeee","strokeWidth":2.6,"strokeDash":[2,2],"clip":true},"encoding":{"y2":{"field":"y2"}}},
  {"data":{"name":"walls"},"mark":{"type":"rule","stroke":"#555555","strokeWidth":3.2,"clip":true},"encoding":{"x2":{"field":"x2"}}}
 ]},
{"width":301,"height":149,"view":{"fill":"#d6d6d6"},
 "encoding":{"x":{"field":"x","type":"quantitative","scale":{"domain":[0,100],"nice":false,"zero":false},"axis":null},"y":{"field":"y","type":"quantitative","scale":{"domain":[0,50],"nice":false,"zero":false},"axis":null}},
 "layer":[
  {"data":{"name":"a_regions"},"transform":[{"filter":"datum.z == 1"}],"mark":{"type":"line","interpolate":"cardinal-closed","stroke":"#555555","strokeWidth":1,"clip":true},"encoding":{"detail":{"field":"id","type":"nominal"},"order":{"field":"i","type":"quantitative"},"fill":{"field":"band","type":"ordinal","scale":{"domain":[1,2,3,4,5,6,7,8,9,10,11,12],"range":["#3c3c3c","#484848","#7a7a7a","#d7d7d7","#d3d3d3","#d1d1d1","#cfcfcf","#dbdbdb","#f5f5f5","#a2a2a2","#727272","#737373"]},"legend":null}}},
  {"data":{"name":"a_regions"},"transform":[{"filter":"datum.z == 2"}],"mark":{"type":"line","interpolate":"cardinal-closed","stroke":"#555555","strokeWidth":1,"clip":true},"encoding":{"detail":{"field":"id","type":"nominal"},"order":{"field":"i","type":"quantitative"},"fill":{"field":"band","type":"ordinal","scale":{"domain":[1,2,3,4,5,6,7,8,9,10,11,12],"range":["#3c3c3c","#484848","#7a7a7a","#d7d7d7","#d3d3d3","#d1d1d1","#cfcfcf","#dbdbdb","#f5f5f5","#a2a2a2","#727272","#737373"]},"legend":null}}},
  {"data":{"name":"a_cores"},"transform":[{"filter":"datum.phi == 0.8"}],"mark":{"type":"line","interpolate":"cardinal-closed","stroke":"#555555","strokeWidth":1,"clip":true},"encoding":{"detail":{"field":"id","type":"nominal"},"order":{"field":"i","type":"quantitative"},"fill":{"field":"band","type":"ordinal","scale":{"domain":[1,2,3,4,5,6,7,8,9,10,11,12],"range":["#3c3c3c","#484848","#7a7a7a","#d7d7d7","#d3d3d3","#d1d1d1","#cfcfcf","#dbdbdb","#f5f5f5","#a2a2a2","#727272","#737373"]},"legend":null}}},
  {"data":{"name":"a_lines"},"mark":{"type":"line","interpolate":"basis","stroke":"#555555","strokeWidth":1,"clip":true},"encoding":{"detail":{"field":"id","type":"nominal"},"order":{"field":"i","type":"quantitative"}}},
  {"data":{"name":"strip"},"mark":{"type":"rect","clip":true},"encoding":{"x2":{"field":"x2"},"y2":{"field":"y2"},"fill":{"field":"band","type":"ordinal","scale":{"domain":[1,2,3,4,5,6,7,8,9,10,11,12],"range":["#3c3c3c","#484848","#7a7a7a","#d7d7d7","#d3d3d3","#d1d1d1","#cfcfcf","#dbdbdb","#f5f5f5","#a2a2a2","#727272","#737373"]},"legend":null}}},
  {"data":{"name":"baffles"},"mark":{"type":"rect","fill":"#4a4a4a","clip":true},"encoding":{"x2":{"field":"x2"},"y2":{"field":"y2"}}},
  {"data":{"name":"bafflecores"},"mark":{"type":"rule","stroke":"#eeeeee","strokeWidth":2.6,"strokeDash":[2,2],"clip":true},"encoding":{"y2":{"field":"y2"}}},
  {"data":{"name":"walls"},"mark":{"type":"rule","stroke":"#555555","strokeWidth":3.2,"clip":true},"encoding":{"x2":{"field":"x2"}}}
 ]},
{"width":300,"height":149,"view":{"fill":"#d6d6d6"},
 "encoding":{"x":{"field":"x","type":"quantitative","scale":{"domain":[0,100],"nice":false,"zero":false},"axis":{"title":"ϕ = 0.8","domain":false,"ticks":false,"labels":false,"grid":false,"titlePadding":4,"titleFont":"Liberation Serif","titleFontSize":22,"titleFontWeight":"normal","titleColor":"#000000"}},"y":{"field":"y","type":"quantitative","scale":{"domain":[0,50],"nice":false,"zero":false},"axis":null}},
 "layer":[
  {"data":{"name":"b_lines"},"mark":{"type":"line","interpolate":"cardinal","stroke":"#555555","strokeWidth":1,"clip":true},"encoding":{"detail":{"field":"id","type":"nominal"},"order":{"field":"i","type":"quantitative"}}},
  {"data":{"name":"strip"},"mark":{"type":"rect","clip":true},"encoding":{"x2":{"field":"x2"},"y2":{"field":"y2"},"fill":{"field":"band","type":"ordinal","scale":{"domain":[1,2,3,4,5,6,7,8,9,10,11,12],"range":["#3c3c3c","#484848","#7a7a7a","#d7d7d7","#d3d3d3","#d1d1d1","#cfcfcf","#dbdbdb","#f5f5f5","#a2a2a2","#727272","#737373"]},"legend":null}}},
  {"data":{"name":"baffles"},"mark":{"type":"rect","fill":"#4a4a4a","clip":true},"encoding":{"x2":{"field":"x2"},"y2":{"field":"y2"}}},
  {"data":{"name":"bafflecores"},"mark":{"type":"rule","stroke":"#eeeeee","strokeWidth":2.6,"strokeDash":[2,2],"clip":true},"encoding":{"y2":{"field":"y2"}}},
  {"data":{"name":"walls"},"mark":{"type":"rule","stroke":"#555555","strokeWidth":3.2,"clip":true},"encoding":{"x2":{"field":"x2"}}}
 ]},
{"width":295,"height":149,"view":{"fill":"#d6d6d6"},
 "encoding":{"x":{"field":"x","type":"quantitative","scale":{"domain":[0,98],"nice":false,"zero":false},"axis":null},"y":{"field":"y","type":"quantitative","scale":{"domain":[0,50],"nice":false,"zero":false},"axis":null}},
 "layer":[
  {"data":{"name":"c_lines"},"mark":{"type":"line","interpolate":"linear","stroke":"#555555","strokeWidth":1,"clip":true},"encoding":{"detail":{"field":"id","type":"nominal"},"order":{"field":"i","type":"quantitative"}}},
  {"data":{"name":"baffles"},"mark":{"type":"rect","fill":"#4a4a4a","clip":true},"encoding":{"x2":{"field":"x2"},"y2":{"field":"y2"}}},
  {"data":{"name":"bafflecores"},"mark":{"type":"rule","stroke":"#eeeeee","strokeWidth":2.6,"strokeDash":[2,2],"clip":true},"encoding":{"y2":{"field":"y2"}}},
  {"data":{"name":"walls"},"mark":{"type":"rule","stroke":"#555555","strokeWidth":3.2,"clip":true},"encoding":{"x2":{"field":"x2"}}}
 ]},
{"width":301,"height":149,"view":{"fill":"#d6d6d6"},
 "encoding":{"x":{"field":"x","type":"quantitative","scale":{"domain":[0,100],"nice":false,"zero":false},"axis":null},"y":{"field":"y","type":"quantitative","scale":{"domain":[0,50],"nice":false,"zero":false},"axis":null}},
 "layer":[
  {"data":{"name":"a_regions"},"transform":[{"filter":"datum.z == 1"}],"mark":{"type":"line","interpolate":"cardinal-closed","stroke":"#555555","strokeWidth":1,"clip":true},"encoding":{"detail":{"field":"id","type":"nominal"},"order":{"field":"i","type":"quantitative"},"fill":{"field":"band","type":"ordinal","scale":{"domain":[1,2,3,4,5,6,7,8,9,10,11,12],"range":["#3c3c3c","#484848","#7a7a7a","#d7d7d7","#d3d3d3","#d1d1d1","#cfcfcf","#dbdbdb","#f5f5f5","#a2a2a2","#727272","#737373"]},"legend":null}}},
  {"data":{"name":"a_regions"},"transform":[{"filter":"datum.z == 2"}],"mark":{"type":"line","interpolate":"cardinal-closed","stroke":"#555555","strokeWidth":1,"clip":true},"encoding":{"detail":{"field":"id","type":"nominal"},"order":{"field":"i","type":"quantitative"},"fill":{"field":"band","type":"ordinal","scale":{"domain":[1,2,3,4,5,6,7,8,9,10,11,12],"range":["#3c3c3c","#484848","#7a7a7a","#d7d7d7","#d3d3d3","#d1d1d1","#cfcfcf","#dbdbdb","#f5f5f5","#a2a2a2","#727272","#737373"]},"legend":null}}},
  {"data":{"name":"a_cores"},"transform":[{"filter":"datum.phi == 0.9"}],"mark":{"type":"line","interpolate":"cardinal-closed","stroke":"#555555","strokeWidth":1,"clip":true},"encoding":{"detail":{"field":"id","type":"nominal"},"order":{"field":"i","type":"quantitative"},"fill":{"field":"band","type":"ordinal","scale":{"domain":[1,2,3,4,5,6,7,8,9,10,11,12],"range":["#3c3c3c","#484848","#7a7a7a","#d7d7d7","#d3d3d3","#d1d1d1","#cfcfcf","#dbdbdb","#f5f5f5","#a2a2a2","#727272","#737373"]},"legend":null}}},
  {"data":{"name":"a_lines"},"mark":{"type":"line","interpolate":"basis","stroke":"#555555","strokeWidth":1,"clip":true},"encoding":{"detail":{"field":"id","type":"nominal"},"order":{"field":"i","type":"quantitative"}}},
  {"data":{"name":"strip"},"mark":{"type":"rect","clip":true},"encoding":{"x2":{"field":"x2"},"y2":{"field":"y2"},"fill":{"field":"band","type":"ordinal","scale":{"domain":[1,2,3,4,5,6,7,8,9,10,11,12],"range":["#3c3c3c","#484848","#7a7a7a","#d7d7d7","#d3d3d3","#d1d1d1","#cfcfcf","#dbdbdb","#f5f5f5","#a2a2a2","#727272","#737373"]},"legend":null}}},
  {"data":{"name":"baffles"},"mark":{"type":"rect","fill":"#4a4a4a","clip":true},"encoding":{"x2":{"field":"x2"},"y2":{"field":"y2"}}},
  {"data":{"name":"bafflecores"},"mark":{"type":"rule","stroke":"#eeeeee","strokeWidth":2.6,"strokeDash":[2,2],"clip":true},"encoding":{"y2":{"field":"y2"}}},
  {"data":{"name":"walls"},"mark":{"type":"rule","stroke":"#555555","strokeWidth":3.2,"clip":true},"encoding":{"x2":{"field":"x2"}}}
 ]},
{"width":300,"height":149,"view":{"fill":"#d6d6d6"},
 "encoding":{"x":{"field":"x","type":"quantitative","scale":{"domain":[0,100],"nice":false,"zero":false},"axis":{"title":"ϕ = 0.9","domain":false,"ticks":false,"labels":false,"grid":false,"titlePadding":4,"titleFont":"Liberation Serif","titleFontSize":22,"titleFontWeight":"normal","titleColor":"#000000"}},"y":{"field":"y","type":"quantitative","scale":{"domain":[0,50],"nice":false,"zero":false},"axis":null}},
 "layer":[
  {"data":{"name":"b_lines"},"mark":{"type":"line","interpolate":"cardinal","stroke":"#555555","strokeWidth":1,"clip":true},"encoding":{"detail":{"field":"id","type":"nominal"},"order":{"field":"i","type":"quantitative"}}},
  {"data":{"name":"strip"},"mark":{"type":"rect","clip":true},"encoding":{"x2":{"field":"x2"},"y2":{"field":"y2"},"fill":{"field":"band","type":"ordinal","scale":{"domain":[1,2,3,4,5,6,7,8,9,10,11,12],"range":["#3c3c3c","#484848","#7a7a7a","#d7d7d7","#d3d3d3","#d1d1d1","#cfcfcf","#dbdbdb","#f5f5f5","#a2a2a2","#727272","#737373"]},"legend":null}}},
  {"data":{"name":"baffles"},"mark":{"type":"rect","fill":"#4a4a4a","clip":true},"encoding":{"x2":{"field":"x2"},"y2":{"field":"y2"}}},
  {"data":{"name":"bafflecores"},"mark":{"type":"rule","stroke":"#eeeeee","strokeWidth":2.6,"strokeDash":[2,2],"clip":true},"encoding":{"y2":{"field":"y2"}}},
  {"data":{"name":"walls"},"mark":{"type":"rule","stroke":"#555555","strokeWidth":3.2,"clip":true},"encoding":{"x2":{"field":"x2"}}}
 ]},
{"width":295,"height":149,"view":{"fill":"#d6d6d6"},
 "encoding":{"x":{"field":"x","type":"quantitative","scale":{"domain":[0,98],"nice":false,"zero":false},"axis":null},"y":{"field":"y","type":"quantitative","scale":{"domain":[0,50],"nice":false,"zero":false},"axis":null}},
 "layer":[
  {"data":{"name":"c_lines"},"mark":{"type":"line","interpolate":"linear","stroke":"#555555","strokeWidth":1,"clip":true},"encoding":{"detail":{"field":"id","type":"nominal"},"order":{"field":"i","type":"quantitative"}}},
  {"data":{"name":"baffles"},"mark":{"type":"rect","fill":"#4a4a4a","clip":true},"encoding":{"x2":{"field":"x2"},"y2":{"field":"y2"}}},
  {"data":{"name":"bafflecores"},"mark":{"type":"rule","stroke":"#eeeeee","strokeWidth":2.6,"strokeDash":[2,2],"clip":true},"encoding":{"y2":{"field":"y2"}}},
  {"data":{"name":"walls"},"mark":{"type":"rule","stroke":"#555555","strokeWidth":3.2,"clip":true},"encoding":{"x2":{"field":"x2"}}}
 ]}
]},
{"width":893,"height":23,
 "layer":[
  {"data":{"name":"bar"},"mark":{"type":"rect","stroke":"#3a3a3a","strokeWidth":1},"encoding":{"x":{"field":"lo","type":"quantitative","scale":{"domain":[-1.31,11],"nice":false,"zero":false},"axis":null},"x2":{"field":"hi"},"fill":{"field":"band","type":"ordinal","scale":{"domain":[1,2,3,4,5,6,7,8,9,10,11,12],"range":["#3c3c3c","#484848","#7a7a7a","#d7d7d7","#d3d3d3","#d1d1d1","#cfcfcf","#dbdbdb","#f5f5f5","#a2a2a2","#727272","#737373"]},"legend":null}}},
  {"data":{"name":"barlabels"},"mark":{"type":"text","dy":20,"font":"DejaVu Sans","fontSize":12,"color":"#4a4a4a"},"encoding":{"x":{"field":"pos","type":"quantitative","scale":{"domain":[-1.31,11],"nice":false,"zero":false},"axis":null},"text":{"field":"label","type":"nominal"}}}
 ]},
{"hconcat":[
 {"width":301,"height":21,"data":{"values":[{"t":"(a)"}]},"mark":{"type":"text","font":"Liberation Sans","fontSize":19,"fontStyle":"italic","color":"#222222"},"encoding":{"text":{"field":"t","type":"nominal"}}},
 {"width":300,"height":21,"data":{"values":[{"t":"(b)"}]},"mark":{"type":"text","font":"Liberation Sans","fontSize":19,"fontStyle":"italic","color":"#222222"},"encoding":{"text":{"field":"t","type":"nominal"}}},
 {"width":295,"height":21,"data":{"values":[{"t":"(c)"}]},"mark":{"type":"text","font":"Liberation Sans","fontSize":19,"fontStyle":"italic","color":"#222222"},"encoding":{"text":{"field":"t","type":"nominal"}}}
 ], "spacing": 26, "bounds": "flush"}
]
}
